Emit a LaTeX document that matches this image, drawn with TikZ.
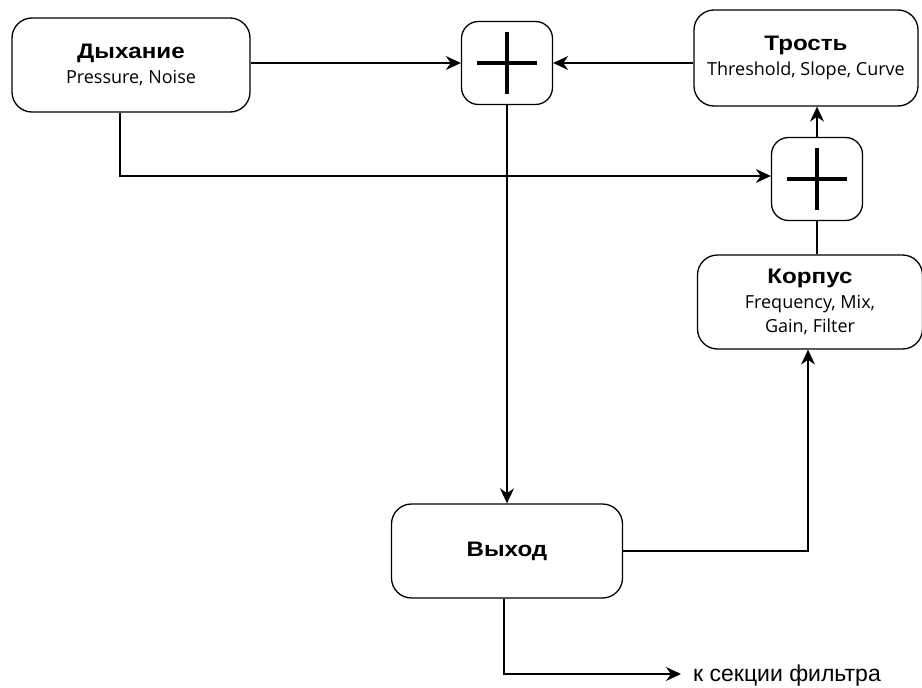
\documentclass[tikz,border=0pt]{standalone}
\usepackage{fontspec}
\setmainfont{Open Sans}
\newfontfamily\headfont{Liberation Sans}[FakeStretch=1.15]
\newfontfamily\notefont{Liberation Sans}
\usetikzlibrary{arrows.meta}

\tikzset{
	block/.style={draw, line width=1.3pt, rounded corners=20pt, align=center, inner sep=0pt},
	sumbox/.style={draw, line width=1.3pt, rounded corners=17pt, minimum width=91pt, minimum height=83pt},
	arr/.style={line width=1.3pt, -{Stealth[length=15pt,width=14pt]}},
	wire/.style={line width=1.3pt}
}
\newcommand{\ttl}[1]{{\headfont\bfseries\fontsize{21}{24}\selectfont #1}}
\newcommand{\sub}[1]{{\fontsize{18}{22}\selectfont #1}}

\begin{document}
\begin{tikzpicture}[x=1pt,y=-1pt]
	\useasboundingbox (0,0) rectangle (922,688);
	
	% blocks
	\node[block, minimum width=238pt, minimum height=94pt] (breath) at (131,65) {\ttl{Дыхание}\\[6pt]\sub{Pressure, Noise}};
	\node[block, minimum width=224pt, minimum height=96pt] (reed) at (806,58) {\ttl{Трость}\\[6pt]\sub{Threshold, Slope, Curve}};
	\node[block, minimum width=225pt, minimum height=94pt] (body) at (810,302) {\ttl{Корпус}\\[6pt]\sub{Frequency, Mix,}\\[5pt]\sub{Gain, Filter}};
	\node[block, minimum width=231pt, minimum height=94pt] (out) at (507,551) {\ttl{Выход}};
	
	% summing points
	\node[sumbox] (sumA) at (507,63) {};
	\node[sumbox] (sumB) at (817,179) {};
	\foreach \s in {sumA,sumB} {
		\draw[line width=4pt] ([xshift=-30pt]\s.center) -- ([xshift=30pt]\s.center);
		\draw[line width=4pt] ([yshift=-31pt]\s.center) -- ([yshift=31pt]\s.center);
	}
	
	\coordinate (bx) at (120,176);
	\coordinate (bodyin) at (808,551);
	\coordinate (outx) at (504,674);
	\node[anchor=west, inner sep=0pt] (dest) at (693,676) {\notefont\fontsize{23}{26}\selectfont к секции фильтра};
	
	% connections
	\draw[arr] (breath.east |- sumA.west) -- (sumA.west);
	\draw[arr] (reed.west |- sumA.east) -- (sumA.east);
	\draw[arr] (sumA.south) -- (out.north);
	\draw[arr] (breath.south -| bx) |- (sumB.west |- bx);
	\draw[arr] (sumB.north) -- (reed.south -| sumB.north);
	\draw[wire] (body.north -| sumB.south) -- (sumB.south);
	\draw[arr] (out.east) -| (body.south -| bodyin);
	\draw[arr] (out.south -| outx) |- ([xshift=-12pt]dest.west |- outx);
\end{tikzpicture}
\end{document}
